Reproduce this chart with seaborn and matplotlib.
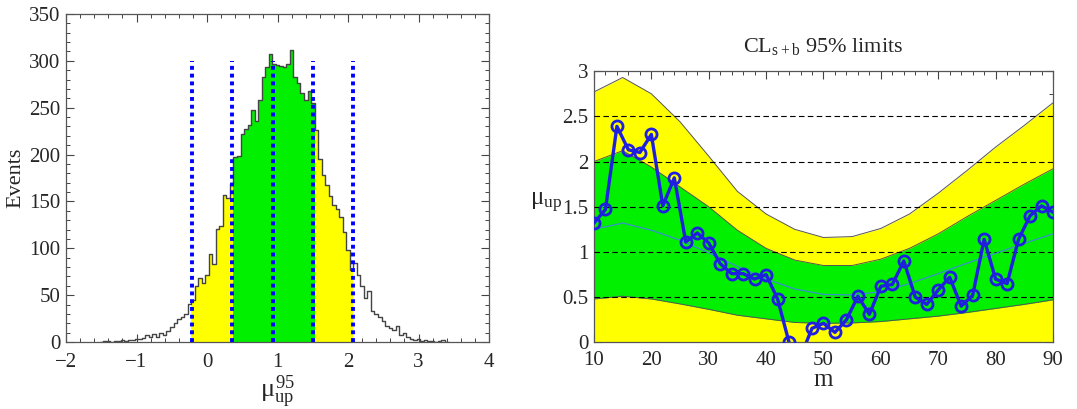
import numpy as np
import pandas as pd
import matplotlib
matplotlib.use("Agg")
import matplotlib.pyplot as plt
from matplotlib.ticker import MultipleLocator, FormatStrFormatter
import seaborn as sns

# ---------------- data ----------------
# histogram of the 95% upper limits (bin centres, width 0.05)
bin_width = 0.05
mu_centres = np.round(np.arange(-1.50, 3.40 + 1e-9, bin_width), 2)
events = [
    0, 1, 1, 0, 1, 1, 2, 1, 2, 2,
    3, 3, 4, 7, 5, 9, 5, 10, 7, 12,
    16, 20, 25, 27, 30, 41, 45, 60, 68, 63,
    71, 94, 83, 121, 124, 157, 154, 169, 197, 199,
    222, 227, 232, 248, 236, 258, 283, 293, 307, 297,
    296, 294, 293, 297, 312, 283, 276, 266, 258, 268,
    255, 226, 195, 178, 168, 156, 146, 142, 133, 117,
    98, 77, 84, 71, 60, 47, 54, 33, 30, 27,
    22, 17, 15, 13, 17, 8, 10, 5, 3, 2,
    3, 1, 2, 1, 1, 0, 1, 2, 0,
]
# -2s, -1s, median, +1s, +2s quantiles of the distribution
quantile_lines = [-0.21, 0.357, 0.938, 1.505, 2.072]
quantile_line_top = 300

# expected band vs mass
m_band = [10, 15, 20, 25, 30, 35, 40, 45, 50, 55, 60, 65, 70, 75, 80, 85, 90]
band_p2 = [2.77, 2.93, 2.75, 2.44, 2.06, 1.67, 1.42, 1.25, 1.16, 1.17, 1.26, 1.42, 1.65, 1.90, 2.16, 2.40, 2.65]
band_p1 = [2.00, 2.12, 1.94, 1.72, 1.50, 1.24, 1.04, 0.91, 0.85, 0.85, 0.92, 1.04, 1.20, 1.39, 1.57, 1.75, 1.92]
band_med = [1.25, 1.32, 1.24, 1.13, 0.99, 0.84, 0.70, 0.59, 0.53, 0.525, 0.56, 0.65, 0.76, 0.875, 0.985, 1.095, 1.20]
band_m1 = [0.48, 0.51, 0.48, 0.425, 0.365, 0.30, 0.26, 0.22, 0.21, 0.215, 0.23, 0.26, 0.29, 0.33, 0.375, 0.42, 0.47]

# observed limits
m_obs = [10, 12, 14, 16, 18, 20, 22, 24, 26, 28, 30, 32, 34, 36, 38, 40, 42, 44, 46, 48,
         50, 52, 54, 56, 58, 60, 62, 64, 66, 68, 70, 72, 74, 76, 78, 80, 82, 84, 86, 88, 90]
mu_obs = [1.32, 1.47, 2.39, 2.13, 2.10, 2.30, 1.51, 1.82, 1.11, 1.21, 1.10, 0.87, 0.76, 0.76,
          0.70, 0.75, 0.48, 0.00, -0.16, 0.155, 0.21, 0.11, 0.25, 0.51, 0.31, 0.62, 0.64, 0.90,
          0.50, 0.42, 0.58, 0.72, 0.40, 0.52, 1.14, 0.70, 0.65, 1.14, 1.40, 1.51, 1.44]
grid_levels = [0.5, 1.0, 1.5, 2.0, 2.5]

# ---------------- style ----------------
YELLOW = "#ffff00"
GREEN = "#00f000"
BLUE = "#1f1fe0"
EDGE = "#555555"

sns.set_theme(style="ticks")
plt.rcParams["font.family"] = ["Liberation Serif", "DejaVu Serif"]
plt.rcParams["mathtext.fontset"] = "custom"
plt.rcParams["mathtext.rm"] = "Liberation Serif"
plt.rcParams["mathtext.it"] = "Liberation Serif"
plt.rcParams["mathtext.bf"] = "Liberation Serif:bold"
plt.rcParams["axes.edgecolor"] = "#555555"
plt.rcParams["axes.linewidth"] = 0.9

fig = plt.figure(figsize=(10.77, 4.09), dpi=100)
ax1 = fig.add_axes([0.0613, 0.1638, 0.3928, 0.802])
ax2 = fig.add_axes([0.5515, 0.163, 0.4262, 0.663])

# ---------------- left: histogram ----------------
mu_arr = np.asarray(mu_centres, dtype=float)
ev_arr = np.asarray(events, dtype=float)
lo_edge = float(mu_arr[0] - bin_width / 2)
hi_edge = float(mu_arr[-1] + bin_width / 2)
q = quantile_lines
yellow_mask = ((mu_arr > q[0]) & (mu_arr < q[1])) | ((mu_arr > q[3]) & (mu_arr < q[4]))
green_mask = (mu_arr >= q[1]) & (mu_arr <= q[3])

hist_kws = dict(binwidth=bin_width, binrange=(lo_edge, hi_edge), element="step")
for mask, col in [(yellow_mask, YELLOW), (green_mask, GREEN)]:
    sns.histplot(x=mu_arr, weights=np.where(mask, ev_arr, 0.0), fill=True,
                 color=col, alpha=1.0, linewidth=0, ax=ax1, **hist_kws)
sns.histplot(x=mu_arr, weights=ev_arr, fill=False, color="#444444",
             linewidth=1.0, ax=ax1, **hist_kws)

ax1.vlines(quantile_lines, 0, quantile_line_top, colors="blue",
           linestyles=[(0, (1, 1))], linewidth=2.8, zorder=5)

ax1.set_xlim(-2, 4)
ax1.set_ylim(0, 350)
ax1.xaxis.set_major_locator(MultipleLocator(1))
ax1.xaxis.set_minor_locator(MultipleLocator(0.2))
ax1.yaxis.set_major_locator(MultipleLocator(50))
ax1.yaxis.set_minor_locator(MultipleLocator(10))
ax1.set_xlabel(r"$μ_{up}^{95}$", fontsize=19)
ax1.xaxis.set_label_coords(0.5, -0.093)
ax1.set_ylabel("Events", fontsize=16)
ax1.yaxis.set_label_coords(-0.095, 0.5)

# ---------------- right: limits vs mass ----------------
ax2.fill_between(m_band, 0, band_p2, color=YELLOW, linewidth=0, zorder=1)
ax2.fill_between(m_band, band_m1, band_p1, color=GREEN, linewidth=0, zorder=2)
for edge in (band_p2, band_p1, band_m1):
    ax2.plot(m_band, edge, color=EDGE, linewidth=0.7, zorder=3)
for lvl in grid_levels:
    ax2.axhline(lvl, color="black", linestyle=(0, (5, 3)), linewidth=0.8, zorder=4)

sns.lineplot(x=m_band, y=band_med, color="#3a8fd0", linewidth=0.9, ax=ax2, zorder=5)
sns.lineplot(x=m_obs, y=mu_obs, color=BLUE, linewidth=2.4, marker="o",
             markersize=8, markerfacecolor="none", markeredgecolor=BLUE,
             markeredgewidth=2.0, ax=ax2, zorder=6)

ax2.set_xlim(10, 90)
ax2.set_ylim(0, 3)
ax2.xaxis.set_major_locator(MultipleLocator(10))
ax2.xaxis.set_minor_locator(MultipleLocator(2))
ax2.yaxis.set_major_locator(MultipleLocator(0.5))
ax2.yaxis.set_minor_locator(MultipleLocator(0.25))
ax2.yaxis.set_major_formatter(FormatStrFormatter("%g"))
ax2.set_title(r"CL$_{s+b}$ 95% limits", fontsize=16, pad=14)
ax2.set_xlabel("m", fontsize=18)
ax2.xaxis.set_label_coords(0.5, -0.1)
ax2.set_ylabel(r"$μ_{up}$", fontsize=18, rotation=0)
ax2.yaxis.set_label_coords(-0.105, 0.47)

for ax in (ax1, ax2):
    ax.tick_params(which="both", direction="in", top=True, right=True,
                   labelsize=15, color="#444444")
    ax.tick_params(axis="y", which="major", pad=4)
    ax.tick_params(which="major", length=6, width=0.8)
    ax.tick_params(which="minor", length=3, width=0.7)
    for s in ax.spines.values():
        s.set_visible(True)
    ax.set_facecolor("white")
ax1.tick_params(axis="x", which="major", pad=8)
ax2.tick_params(axis="x", which="major", pad=6)

fig.savefig("out.png", dpi=100)
